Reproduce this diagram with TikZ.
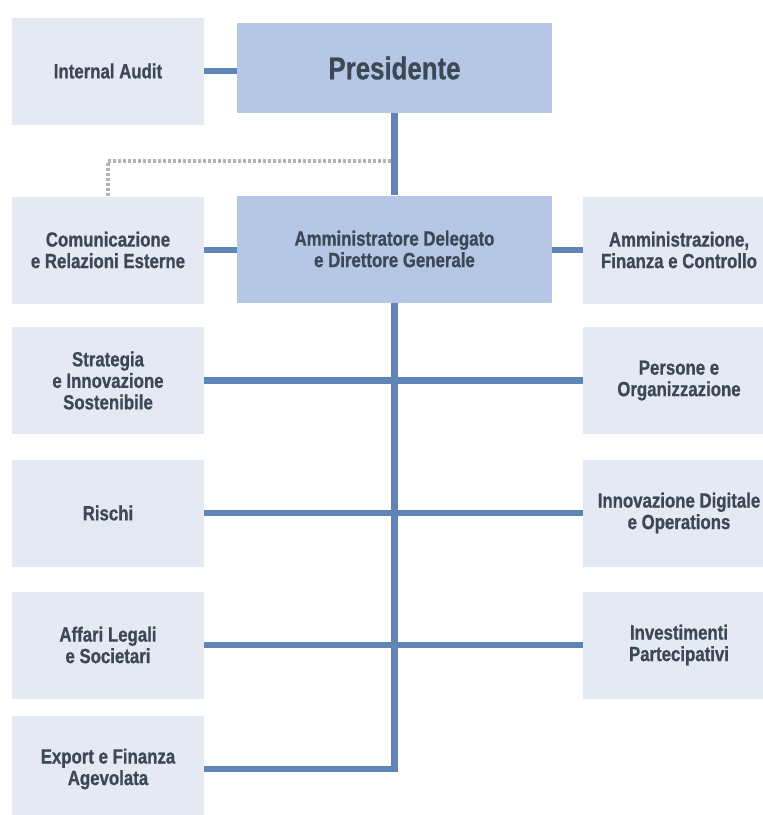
\documentclass[tikz,border=0pt]{standalone}
\usepackage{fontspec}
\setmainfont{Liberation Sans}[FakeStretch=0.82, BoldFeatures={FakeBold=0.8}]
\usepackage{tikz}
\usetikzlibrary{positioning,calc}
\definecolor{boxlight}{HTML}{E5E9F4}
\definecolor{boxmid}{HTML}{B5C7E5}
\definecolor{linkblue}{HTML}{5E85B5}
\definecolor{txtdark}{HTML}{3C4856}
\definecolor{dotgray}{HTML}{B3B3B3}

\begin{document}
\begin{tikzpicture}[x = 1pt, y = -1pt,
  unit/.style = {fill = boxlight, minimum width = 192pt, minimum height = 107pt, inner sep = 0pt,
    align = center, text = txtdark, font = \fontsize{20.5}{21.5}\selectfont\bfseries},
  head/.style = {unit, fill = boxmid, minimum width = 315pt},
  link/.style = {draw = linkblue, line width = 6.5pt},
  dotline/.style = {draw = dotgray, line width = 3.5pt, dash pattern = on 3pt off 2pt}]
  \useasboundingbox (0,0) rectangle (763,815);
  \clip (0,0) rectangle (763,815);
  \node[unit] (ia) at (108,71) {Internal Audit};
  \node[head, minimum height = 90pt, font = \fontsize{31.5}{34}\selectfont\bfseries] (pres) at (394.5,68) {Presidente};
  \node[unit] (comm) at (108,250) {Comunicazione\\e Relazioni Esterne};
  \node[head] (ad) at (394.5,249) {Amministratore Delegato\\e Direttore Generale};
  \node[unit] (amm) at (679,250) {Amministrazione,\\Finanza e Controllo};
  \node[unit] (strat) at (108,380.5) {Strategia\\e Innovazione\\Sostenibile};
  \node[unit] (pers) at (679,380.5) {Persone e\\Organizzazione};
  \node[unit] (risk) at (108,513) {Rischi};
  \node[unit] (innov) at (679,513) {Innovazione Digitale\\e Operations};
  \node[unit] (legal) at (108,645) {Affari Legali\\e Societari};
  \node[unit] (invest) at (679,645) {Investimenti\\Partecipativi};
  \node[unit] (exp) at (108,769) {Export e Finanza\\Agevolata};
  \coordinate (dot) at (391,161);
  \draw[link] (ia) -- (ia -| pres.west);
  \draw[link] (pres) -- (ad);
  \draw[link] (comm) -- (comm -| ad.west);
  \draw[link] (amm) -- (amm -| ad.east);
  \draw[link] (ad.south) |- (exp);
  \draw[link] (strat) -- (pers);
  \draw[link] (risk) -- (innov);
  \draw[link] (legal) -- (invest);
  \draw[dotline] (dot) -| (comm);
\end{tikzpicture}
\end{document}
